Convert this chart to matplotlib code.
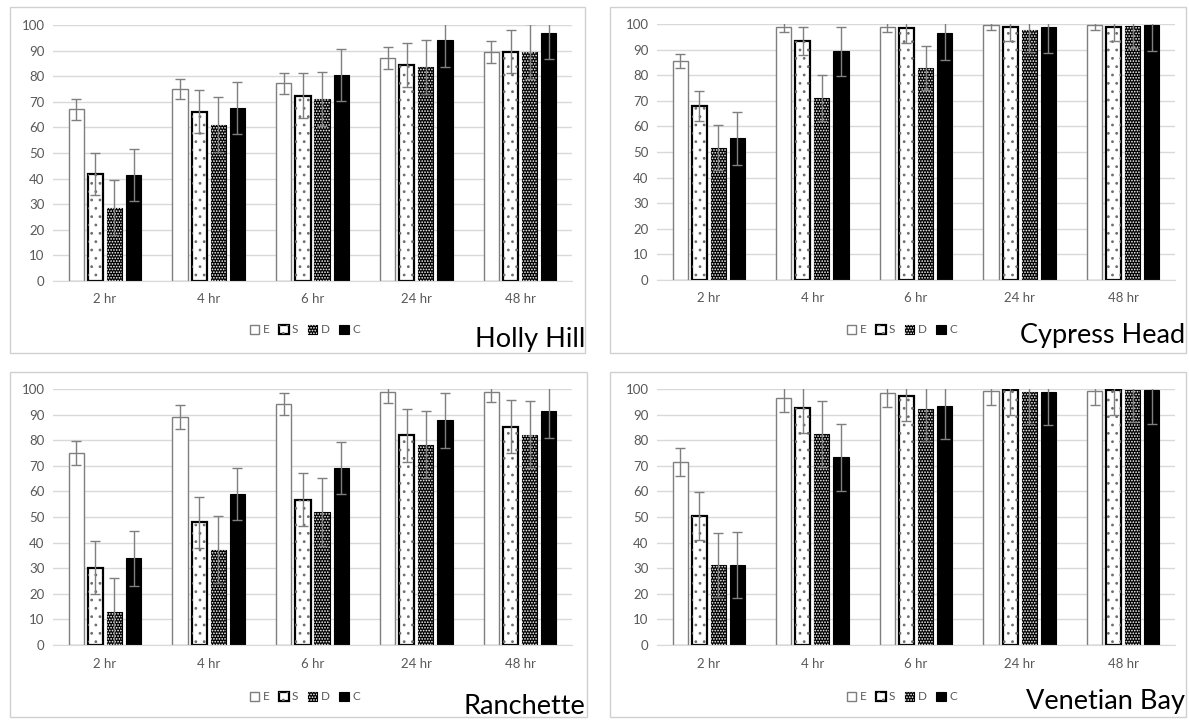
import numpy as np
import matplotlib
matplotlib.use("Agg")
import matplotlib.pyplot as plt
from matplotlib.patches import Rectangle, Patch

plt.rcParams['font.family'] = ['Lato', 'DejaVu Sans']
plt.rcParams['hatch.linewidth'] = 0.8

# =============================================================================
# DATA
# =============================================================================

times = ["2 hr", "4 hr", "6 hr", "24 hr", "48 hr"]
series = ["E", "S", "D", "C"]

holly_mean = [
    [67.0, 75.0, 77.2, 87.1, 89.6],   # E
    [41.7, 66.1, 72.4, 84.5, 89.6],   # S
    [28.6, 61.0, 71.1, 83.5, 89.6],   # D
    [41.5, 67.6, 80.5, 94.0, 96.7],   # C
]
holly_err = [
    [4.0, 3.9, 4.2, 4.2, 4.3],
    [8.3, 8.4, 8.7, 8.6, 8.3],
    [10.7, 10.7, 10.7, 10.6, 10.7],
    [10.2, 10.0, 10.0, 10.3, 10.0],
]

cypress_mean = [
    [85.5, 98.9, 98.9, 99.5, 99.5],
    [68.0, 93.2, 98.3, 99.0, 99.0],
    [51.7, 71.1, 82.8, 97.7, 99.3],
    [55.3, 89.3, 96.5, 99.0, 99.5],
]
cypress_err = [
    [2.8, 2.0, 2.0, 2.0, 2.0],
    [6.0, 5.5, 5.8, 5.8, 5.8],
    [8.9, 8.9, 8.6, 8.7, 8.7],
    [10.3, 9.5, 10.5, 10.5, 10.0],
]

ranchette_mean = [
    [75.0, 89.0, 94.1, 98.7, 98.8],
    [30.2, 48.0, 56.7, 81.9, 85.3],
    [12.8, 37.3, 52.1, 78.3, 82.2],
    [33.9, 59.0, 69.1, 87.7, 91.4],
]
ranchette_err = [
    [4.8, 4.6, 4.2, 4.0, 4.0],
    [10.3, 10.0, 10.4, 10.4, 10.3],
    [13.3, 13.0, 13.3, 13.1, 13.2],
    [10.7, 10.2, 10.3, 10.6, 10.7],
]

venetian_mean = [
    [71.4, 96.3, 98.3, 99.4, 99.4],
    [50.3, 92.6, 97.4, 99.5, 99.5],
    [31.4, 82.5, 92.0, 99.0, 99.7],
    [31.2, 73.3, 93.5, 98.8, 99.5],
]
venetian_err = [
    [5.5, 5.3, 5.5, 5.5, 5.5],
    [9.4, 9.6, 9.8, 9.5, 9.5],
    [12.5, 12.9, 12.5, 12.5, 12.5],
    [12.9, 13.0, 13.0, 13.0, 13.0],
]

site_names = ["Holly Hill", "Cypress Head", "Ranchette", "Venetian Bay"]
site_means = [holly_mean, cypress_mean, ranchette_mean, venetian_mean]
site_errs = [holly_err, cypress_err, ranchette_err, venetian_err]

# =============================================================================
# STYLE
# =============================================================================

W, H = 1189, 720
GRID = '#d9d9d9'
TXT = '#595959'
ECOL = '#7f7f7f'

# panel geometry in pixels: (axes left, axes right, y of 0, y of 100)
axes_px = [
    (53, 572, 281, 25),
    (657, 1175, 280, 24),
    (53, 572, 645, 389),
    (657, 1175, 645, 389),
]
border_px = [(10, 7, 585, 353), (610, 7, 1186, 353),
             (10, 372, 587, 717), (610, 372, 1186, 717)]
title_px = [(585, 340), (1185, 336), (585, 706), (1185, 702)]
legend_px = [(305, 330), (902, 330), (305, 697), (902, 697)]

bar_w = 0.146
pitch = 0.184

# overlay patterns: (hatch, colour)
patterns = {"S": ('..', '#6e6e6e'), "D": ('......', 'white')}


def bar_style(name):
    if name == "E":
        return dict(facecolor='white', edgecolor=ECOL, linewidth=1.0)
    if name == "S":
        return dict(facecolor='white', edgecolor='black', linewidth=1.6)
    return dict(facecolor='black', edgecolor='black', linewidth=0.8)


def legend_handle(name):
    base = Patch(**bar_style(name))
    if name in patterns:
        h, c = patterns[name]
        return (base, Patch(facecolor='none', edgecolor=c, linewidth=0, hatch=h))
    return base


def draw_panel(fig, idx):
    l, r, y0, y100 = axes_px[idx]
    ax = fig.add_axes([l / W, 1 - y0 / H, (r - l) / W, (y0 - y100) / H])
    x = np.arange(len(times))
    means = site_means[idx]
    errs = site_errs[idx]
    for k, name in enumerate(series):
        xs = x + (k - 1.5) * pitch
        ax.bar(xs, means[k], width=bar_w, zorder=2, **bar_style(name))
        if name in patterns:
            h, c = patterns[name]
            ax.bar(xs, means[k], width=bar_w, facecolor='none', edgecolor=c,
                   linewidth=0, hatch=h, zorder=2.5)
        ax.errorbar(xs, means[k], yerr=errs[k], fmt='none', ecolor=ECOL,
                    elinewidth=1.0, capsize=3.5, capthick=1.0, zorder=3)

    ax.set_ylim(0, 100)
    ax.set_xlim(-0.5, len(times) - 0.5)
    ax.set_yticks(np.arange(0, 101, 10))
    ax.set_xticks(x)
    ax.set_xticklabels(times)
    ax.yaxis.grid(True, color=GRID, linewidth=1.0, zorder=0)
    ax.set_axisbelow(True)
    for s in ['top', 'right', 'left']:
        ax.spines[s].set_visible(False)
    ax.spines['bottom'].set_color(GRID)
    ax.tick_params(axis='both', length=0, colors=TXT, labelsize=9.5)
    ax.tick_params(axis='x', pad=9)
    ax.tick_params(axis='y', pad=6)

    # panel border
    bx0, by0, bx1, by1 = border_px[idx]
    fig.patches.append(Rectangle((bx0 / W, 1 - by1 / H), (bx1 - bx0) / W, (by1 - by0) / H,
                                 transform=fig.transFigure, facecolor='none',
                                 edgecolor='#d0d0d0', linewidth=1.0, zorder=0))

    tx, ty = title_px[idx]
    fig.text(tx / W, 1 - ty / H, site_names[idx], ha='right', va='center',
             fontsize=19.5, color='black')

    handles = [legend_handle(n) for n in series]
    lx, ly = legend_px[idx]
    fig.legend(handles, series, loc='center', bbox_to_anchor=(lx / W, 1 - ly / H),
               ncol=4, frameon=False, fontsize=8.5, labelcolor=TXT,
               handlelength=0.8, handleheight=0.8, handletextpad=0.3,
               columnspacing=0.8, borderaxespad=0)
    return ax


def main():
    fig = plt.figure(figsize=(W / 100, H / 100), dpi=100)
    for i in range(4):
        draw_panel(fig, i)
    fig.savefig("out.png", dpi=100)


if __name__ == "__main__":
    main()
